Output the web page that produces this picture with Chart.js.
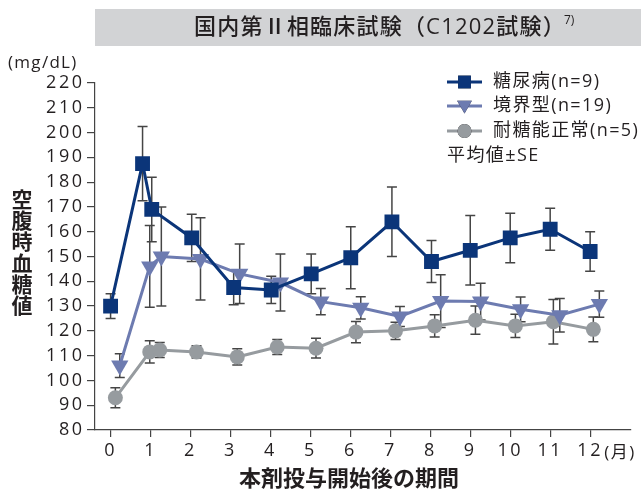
<!DOCTYPE html>
<html><head><meta charset="utf-8">
<script src="https://cdn.jsdelivr.net/npm/chart.js@4/dist/chart.umd.min.js"></script>
<style>html,body{margin:0;padding:0;background:#fff}#wrap{width:641px;height:491px;position:relative}canvas{display:block}</style>
</head><body><div id="wrap"><canvas id="c" width="641" height="491"></canvas></div>
<script>
// ---- data ----
const chartTitle = '国内第Ⅱ相臨床試験（C1202試験）';
const titleNote = '7)';
const unitLabel = '(mg/dL)';
const yAxisTitle = '空腹時血糖値';
const xAxisTitle = '本剤投与開始後の期間';
const xUnit = '(月)';
const seNote = '平均値±SE';
const seriesNames = ['糖尿病(n=9)', '境界型(n=19)', '耐糖能正常(n=5)'];
const monthTicks = [0, 1, 2, 3, 4, 5, 6, 7, 8, 9, 10, 11, 12];

const diabetesMonths = [0, 0.8, 1.03, 2.03, 3.08, 4.02, 5.02, 6.01, 7.04, 8.03, 9, 10, 11, 12];
const diabetesMean   = [130, 187.5, 169, 157.5, 137.5, 136.5, 143, 149.5, 164, 148, 152.5, 157.5, 161, 152];
const diabetesSE     = [5, 15, 13, 9.5, 7, 5.5, 8, 12.5, 14, 8.5, 14, 10, 8.5, 8];

const borderlineMonths = [0.23, 0.98, 1.27, 2.25, 3.23, 4.25, 5.26, 6.26, 7.24, 8.26, 9.26, 10.26, 11.24, 12.23];
const borderlineMean   = [106, 146, 150, 149, 143, 139.5, 131.8, 129.3, 125.8, 132, 131.8, 128.7, 126.3, 130.8];
const borderlineSE     = [4.8, 16.5, 20, 16.6, 12, 11.5, 5.3, 4.5, 4, 10.6, 7.4, 5, 6.8, 5.3];

const normalMonths = [0.12, 0.98, 1.23, 2.15, 3.17, 4.17, 5.14, 6.14, 7.13, 8.11, 9.13, 10.13, 11.08, 12.08];
const normalMean   = [93, 111.5, 112.3, 111.5, 109.5, 113.5, 113, 119.5, 120, 122, 124.3, 122, 123.7, 120.6];
const normalSE     = [4, 4.5, 3, 2.5, 3.3, 3, 4, 4.3, 3.5, 4.5, 5.7, 4.7, 9, 5];

const colors = ['#0b3579', '#6d7bb0', '#969b9f'];
const FONT = "'Open Sans', 'Noto Sans CJK JP', sans-serif";
const CJK = "'Noto Sans CJK JP', sans-serif";
const TEXT = '#231f20';

const toPoints = (xs, ys) => xs.map((x, i) => ({ x: x, y: ys[i] }));

const errorBars = {
  id: 'errorBars',
  beforeDatasetsDraw(chart) {
    const { ctx, scales: { x, y } } = chart;
    ctx.save();
    ctx.strokeStyle = '#454545';
    ctx.lineWidth = 1.5;
    chart.data.datasets.forEach(ds => {
      ds.data.forEach((p, i) => {
        const se = ds.se[i];
        const px = x.getPixelForValue(p.x);
        const t = y.getPixelForValue(p.y + se);
        const b = y.getPixelForValue(p.y - se);
        ctx.beginPath();
        ctx.moveTo(px, t); ctx.lineTo(px, b);
        ctx.moveTo(px - 5, t); ctx.lineTo(px + 5, t);
        ctx.moveTo(px - 5, b); ctx.lineTo(px + 5, b);
        ctx.stroke();
      });
    });
    ctx.restore();
  }
};

const decorations = {
  id: 'decorations',
  beforeDraw(chart) {
    const ctx = chart.ctx;
    ctx.save();
    ctx.fillStyle = '#d2d3d5';
    ctx.fillRect(95, 9, 546, 37);
    ctx.restore();
    ctx.letterSpacing = '2.5px';
  },
  afterDraw(chart) {
    const ctx = chart.ctx;
    const { x } = chart.scales;
    ctx.save();
    ctx.letterSpacing = '0px';
    ctx.fillStyle = TEXT;
    ctx.textBaseline = 'middle';
    // title
    ctx.font = `500 22px ${FONT}`;
    ctx.letterSpacing = '1.2px';
    ctx.textAlign = 'center';
    const cx = 380;
    ctx.fillText(chartTitle, cx, 28);
    const tw = ctx.measureText(chartTitle).width;
    ctx.font = `12px ${FONT}`;
    ctx.textAlign = 'left';
    ctx.letterSpacing = '0px';
    ctx.fillText(titleNote, cx + tw / 2 - 2, 21);
    // unit
    ctx.font = `17px ${FONT}`;
    ctx.letterSpacing = '1.3px';
    ctx.fillText(unitLabel, 8, 63);
    ctx.letterSpacing = '0px';
    // y title (vertical stacked)
    ctx.font = `bold 21px ${CJK}`;
    ctx.textAlign = 'center';
    [...yAxisTitle].forEach((ch, i) => ctx.fillText(ch, 22, 199 + i * 21.2));
    // x title
    ctx.font = `bold 22px ${CJK}`;
    ctx.fillText(xAxisTitle, 349, 478);
    // (月)
    ctx.font = `17px ${FONT}`;
    ctx.textAlign = 'left';
    ctx.letterSpacing = '1.5px';
    ctx.fillText(xUnit, x.getPixelForValue(12) + 14, 453);
    // legend
    const rows = [82, 106, 131];
    const styles = ['rect', 'triangle', 'circle'];
    const radii = [9, 8.5, 7];
    rows.forEach((ry, i) => {
      ctx.strokeStyle = colors[i];
      ctx.lineWidth = 3;
      ctx.beginPath(); ctx.moveTo(447, ry); ctx.lineTo(482, ry); ctx.stroke();
      Chart.helpers.drawPoint(ctx, { pointStyle: styles[i], radius: radii[i], rotation: i === 1 ? 180 : 0, borderWidth: 0 }, 464.5, ry + (i === 1 ? -1 : 0));
      ctx.fillStyle = colors[i];
      ctx.fill();
      ctx.fillStyle = TEXT;
      ctx.font = `18px ${FONT}`;
      ctx.textAlign = 'left';
      ctx.letterSpacing = '1.4px';
      ctx.fillText(seriesNames[i], 493, ry);
    });
    ctx.fillText(seNote, 447, 156);
    ctx.restore();
    ctx.letterSpacing = '0px';
  }
};

const mkDs = (i, xs, ys, se, style, radius, rot) => ({
  label: seriesNames[i],
  data: toPoints(xs, ys),
  se: se,
  borderColor: colors[i],
  backgroundColor: colors[i],
  pointBackgroundColor: colors[i],
  pointBorderColor: colors[i],
  pointBorderWidth: 0,
  borderWidth: 3,
  pointStyle: style,
  pointRadius: radius,
  pointHoverRadius: radius,
  pointRotation: rot,
  tension: 0
});

new Chart(document.getElementById('c'), {
  type: 'line',
  data: {
    datasets: [
      mkDs(0, diabetesMonths, diabetesMean, diabetesSE, 'rect', 10.5, 0),
      mkDs(1, borderlineMonths, borderlineMean, borderlineSE, 'triangle', 10, 180),
      mkDs(2, normalMonths, normalMean, normalSE, 'circle', 7.5, 0)
    ]
  },
  options: {
    responsive: false,
    animation: false,
    devicePixelRatio: 1,
    layout: { padding: { top: 83, right: 9, left: 0, bottom: 0 } },
    plugins: { legend: { display: false }, tooltip: { enabled: false }, title: { display: false } },
    scales: {
      x: {
        type: 'linear', min: -0.39, max: 13.01,
        afterBuildTicks: s => { s.ticks = monthTicks.map(v => ({ value: v })); },
        afterFit: s => { s.height = 61; },
        ticks: { color: TEXT, font: { family: FONT, size: 18 }, padding: 3, maxRotation: 0, autoSkip: false },
        grid: { drawOnChartArea: false, drawTicks: true, tickLength: 7, color: '#444', lineWidth: 1.2 },
        border: { color: '#444', width: 1.2 }
      },
      y: {
        min: 80, max: 220,
        afterFit: s => { s.width = 95; },
        ticks: { stepSize: 10, color: TEXT, font: { family: FONT, size: 18 }, padding: 2.5, autoSkip: false },
        grid: { drawOnChartArea: false, drawTicks: true, tickLength: 8, color: '#444', lineWidth: 1.2 },
        border: { color: '#444', width: 1.2 }
      }
    }
  },
  plugins: [errorBars, decorations]
});
</script>
</body></html>
